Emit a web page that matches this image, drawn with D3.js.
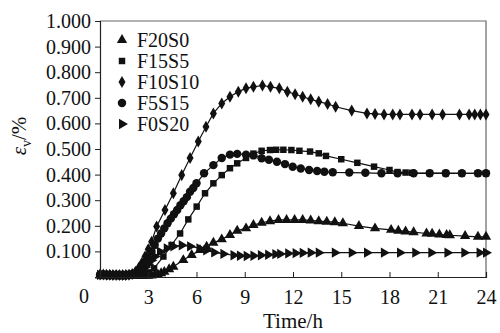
<!DOCTYPE html>
<html>
<head>
<meta charset="utf-8">
<script src="https://cdn.jsdelivr.net/npm/d3@7"></script>
<style>
  body { margin: 0; background: #fff; }
  svg { display: block; }
  svg text { font-family: "Liberation Serif", "Times New Roman", Tinos, "DejaVu Serif", "Noto Serif", Times, serif; }
</style>
</head>
<body>
<div id="chart"></div>
<script>
// Volumetric strain vs time, five mixes
const serifFont = '"Liberation Serif", "Times New Roman", Tinos, "DejaVu Serif", "Noto Serif", Times, serif';
const xTicks = [3, 6, 9, 12, 15, 18, 21, 24];
const yTicks = [0.1, 0.2, 0.3, 0.4, 0.5, 0.6, 0.7, 0.8, 0.9, 1.0];
const seriesNames = ['F20S0', 'F15S5', 'F10S10', 'F5S15', 'F0S20'];
const seriesSymbols = ['triangle', 'square', 'diamond', 'circle', 'right'];

const tF20S0 = [0, 0.2, 0.4, 0.6, 0.8, 1.0, 1.2, 1.4, 1.6, 1.8, 2.0, 2.2, 2.4, 2.6, 2.8, 3.0, 3.2, 3.4, 3.6, 3.8, 4.0, 4.3, 4.56, 5.18, 5.7, 6.22, 6.63, 7.05, 7.57, 8.08, 8.53, 9.08, 9.54, 10.05, 10.57, 11.1, 11.6, 12.1, 12.6, 13.1, 13.6, 14.1, 14.6, 15.1, 16.1, 17.1, 18.1, 18.55, 19.0, 19.5, 20.3, 20.65, 21.1, 21.55, 21.75, 22.7, 23.5, 24];
const vF20S0 = [0.006, 0.006, 0.005, 0.005, 0.005, 0.005, 0.004, 0.004, 0.004, 0.004, 0.004, 0.004, 0.004, 0.004, 0.005, 0.005, 0.006, 0.008, 0.01, 0.015, 0.02, 0.03, 0.04, 0.066, 0.086, 0.105, 0.118, 0.134, 0.147, 0.164, 0.181, 0.19, 0.203, 0.212, 0.218, 0.223, 0.223, 0.223, 0.223, 0.221, 0.218, 0.216, 0.214, 0.21, 0.199, 0.19, 0.184, 0.181, 0.178, 0.175, 0.17, 0.169, 0.166, 0.164, 0.163, 0.16, 0.157, 0.157];

const tF15S5 = [0, 0.2, 0.4, 0.6, 0.8, 1.0, 1.2, 1.4, 1.6, 1.8, 2.0, 2.2, 2.4, 2.6, 2.8, 3.0, 3.36, 3.94, 4.45, 4.98, 5.49, 6.01, 6.53, 7.05, 7.57, 8.08, 8.53, 9.08, 9.54, 10.05, 10.57, 10.95, 11.4, 11.9, 12.4, 13.06, 13.6, 14.05, 15.0, 16.0, 17.04, 18.0, 18.5, 19.0, 19.4, 20.5, 21.5, 22.5, 23.5, 24];
const vF15S5 = [0.007, 0.007, 0.006, 0.006, 0.006, 0.006, 0.005, 0.005, 0.005, 0.005, 0.005, 0.005, 0.006, 0.008, 0.012, 0.018, 0.034, 0.08, 0.125, 0.17, 0.225, 0.275, 0.327, 0.366, 0.398, 0.425, 0.444, 0.465, 0.482, 0.493, 0.496, 0.497, 0.497, 0.496, 0.493, 0.49, 0.483, 0.473, 0.46, 0.446, 0.431, 0.418, 0.41, 0.408, 0.407, 0.406, 0.406, 0.405, 0.405, 0.405];

const tF10S10 = [0, 0.2, 0.4, 0.6, 0.8, 1.0, 1.2, 1.4, 1.6, 1.8, 2.0, 2.2, 2.4, 2.6, 2.8, 3.0, 3.21, 3.52, 4.04, 4.56, 5.08, 5.6, 6.11, 6.59, 7.05, 7.57, 8.08, 8.6, 9.08, 9.54, 10.1, 10.6, 11.15, 11.65, 12.13, 12.6, 13.1, 13.6, 14.15, 14.65, 15.65, 16.6, 17.1, 17.66, 18.2, 18.65, 19.4, 19.9, 20.65, 21.3, 22.35, 22.95, 23.3, 23.65, 24];
const vF10S10 = [0.01, 0.01, 0.009, 0.009, 0.008, 0.008, 0.008, 0.008, 0.008, 0.009, 0.012, 0.02, 0.035, 0.055, 0.08, 0.108, 0.138, 0.197, 0.262, 0.327, 0.398, 0.465, 0.529, 0.587, 0.639, 0.678, 0.704, 0.724, 0.737, 0.743, 0.748, 0.743, 0.737, 0.724, 0.714, 0.704, 0.694, 0.685, 0.676, 0.665, 0.65, 0.639, 0.637, 0.635, 0.635, 0.635, 0.635, 0.635, 0.635, 0.635, 0.635, 0.635, 0.635, 0.635, 0.635];

const tF5S15 = [0, 0.2, 0.4, 0.6, 0.8, 1.0, 1.2, 1.4, 1.6, 1.8, 2.0, 2.2, 2.4, 2.6, 2.8, 3.0, 3.2, 3.4, 3.6, 3.8, 4.0, 4.2, 4.4, 4.6, 4.8, 5.0, 5.2, 5.4, 5.6, 5.8, 6.0, 6.47, 7.05, 7.57, 8.08, 8.53, 9.08, 9.54, 10.05, 10.5, 11.0, 11.5, 11.98, 12.48, 13.0, 13.5, 13.95, 14.47, 15.5, 16.5, 17.5, 18.5, 19.5, 20.5, 21.5, 22.5, 23.5, 24];
const vF5S15 = [0.009, 0.009, 0.008, 0.008, 0.008, 0.008, 0.007, 0.007, 0.007, 0.008, 0.009, 0.012, 0.02, 0.035, 0.055, 0.075, 0.1, 0.125, 0.15, 0.17, 0.19, 0.21, 0.228, 0.245, 0.262, 0.28, 0.296, 0.312, 0.333, 0.348, 0.366, 0.405, 0.437, 0.465, 0.478, 0.481, 0.478, 0.475, 0.464, 0.458, 0.45, 0.441, 0.431, 0.424, 0.418, 0.414, 0.411, 0.409, 0.408, 0.407, 0.405, 0.405, 0.405, 0.405, 0.405, 0.405, 0.405, 0.405];

const tF0S20 = [0, 0.2, 0.4, 0.6, 0.8, 1.0, 1.2, 1.4, 1.6, 1.8, 2.0, 2.2, 2.4, 2.6, 2.8, 3.0, 3.2, 3.4, 3.73, 4.15, 4.56, 5.08, 5.6, 6.18, 6.6, 7.1, 7.67, 8.3, 8.7, 9.12, 9.54, 10.0, 10.45, 10.9, 11.2, 11.7, 12.16, 12.6, 13.1, 13.6, 14.6, 15.65, 16.6, 17.65, 18.65, 19.6, 20.6, 21.6, 22.65, 23.6, 24];
const vF0S20 = [0.008, 0.008, 0.008, 0.007, 0.007, 0.007, 0.007, 0.007, 0.007, 0.008, 0.009, 0.011, 0.015, 0.025, 0.038, 0.05, 0.065, 0.08, 0.099, 0.112, 0.12, 0.124, 0.12, 0.112, 0.104, 0.096, 0.09, 0.085, 0.083, 0.082, 0.083, 0.085, 0.087, 0.089, 0.09, 0.092, 0.093, 0.094, 0.095, 0.095, 0.095, 0.095, 0.095, 0.095, 0.095, 0.095, 0.095, 0.095, 0.095, 0.095, 0.095];

const seriesT = [tF20S0, tF15S5, tF10S10, tF5S15, tF0S20];
const seriesV = [vF20S0, vF15S5, vF10S10, vF5S15, vF0S20];

const W = 500, H = 333;
const margin = { top: 21, right: 14, bottom: 56, left: 100 };
const width = W - margin.left - margin.right;
const height = H - margin.top - margin.bottom;

const svg = d3.select('#chart').append('svg')
  .attr('width', W)
  .attr('height', H)
  .attr('font-family', serifFont);

const g = svg.append('g')
  .attr('transform', `translate(${margin.left},${margin.top})`);

const x = d3.scaleLinear().domain([0, 24]).range([0, width]);
const y = d3.scaleLinear().domain([0, 1]).range([height, 0]);

// frame top/right
g.append('path')
  .attr('d', `M0,0H${width}V${height}`)
  .attr('fill', 'none')
  .attr('stroke', '#666')
  .attr('stroke-width', 1.2);

function symbolPath(kind) {
  if (kind === 'triangle') return d3.symbol(d3.symbolTriangle, 46)();
  if (kind === 'square') return d3.symbol(d3.symbolSquare, 42)();
  if (kind === 'diamond') return d3.symbol(d3.symbolDiamond, 42)();
  if (kind === 'circle') return d3.symbol(d3.symbolCircle, 56)();
  return d3.symbol(d3.symbolTriangle, 46)();
}
function symbolRotate(kind) {
  return kind === 'right' ? ' rotate(90)' : '';
}

const line = d3.line()
  .x(d => x(d[0]))
  .y(d => y(d[1]));

seriesNames.forEach((name, i) => {
  const pts = seriesT[i].map((t, j) => [t, seriesV[i][j]]);
  const sg = g.append('g').attr('class', 'series');
  sg.append('path')
    .datum(pts)
    .attr('d', line)
    .attr('fill', 'none')
    .attr('stroke', '#111')
    .attr('stroke-width', 1.2);
  sg.selectAll('path.mk')
    .data(pts)
    .enter().append('path')
    .attr('class', 'mk')
    .attr('d', symbolPath(seriesSymbols[i]))
    .attr('transform', d => `translate(${x(d[0])},${y(d[1])})${symbolRotate(seriesSymbols[i])}`)
    .attr('fill', '#111');
});

// Y axis
const yAxis = g.append('g')
  .call(d3.axisLeft(y).tickValues(yTicks).tickSize(5).tickFormat(d3.format('.3f')));
yAxis.attr('font-family', serifFont);
yAxis.select('.domain').attr('stroke', '#222').attr('stroke-width', 1.2);
yAxis.selectAll('.tick line').attr('stroke', '#222');
yAxis.selectAll('.tick text')
  .attr('x', -9)
  .style('font-size', '20px')
  .attr('fill', '#111');

// X axis, ticks pointing inward
const xAxis = g.append('g')
  .attr('transform', `translate(0,${height})`)
  .call(d3.axisBottom(x).tickValues(xTicks).tickSize(-5).tickPadding(13));
xAxis.attr('font-family', serifFont);
xAxis.select('.domain').attr('stroke', '#222').attr('stroke-width', 1.2);
xAxis.selectAll('.tick line').attr('stroke', '#222');
xAxis.selectAll('.tick text')
  .style('font-size', '20px')
  .attr('fill', '#111');

// origin label
g.append('text')
  .attr('x', -16)
  .attr('y', height + 26)
  .attr('text-anchor', 'middle')
  .style('font-size', '20px')
  .attr('fill', '#111')
  .text('0');

// axis titles
svg.append('text')
  .attr('x', margin.left + x(12))
  .attr('y', 328)
  .attr('text-anchor', 'middle')
  .style('font-size', '21px')
  .attr('fill', '#111')
  .text('Time/h');

const yt = svg.append('text')
  .attr('transform', 'translate(26,136) rotate(-90)')
  .attr('text-anchor', 'middle')
  .style('font-size', '21px')
  .attr('fill', '#111');
yt.append('tspan').style('font-style', 'italic').text('ε');
yt.append('tspan').attr('dy', 5).style('font-size', '14px').text('v');
yt.append('tspan').attr('dy', -5).text('/%');

// legend
const legend = svg.append('g').attr('transform', 'translate(122,40)');
seriesNames.forEach((name, i) => {
  const row = legend.append('g').attr('transform', `translate(0,${i * 21})`);
  row.append('path')
    .attr('d', symbolPath(seriesSymbols[i]))
    .attr('transform', `translate(0,0)${symbolRotate(seriesSymbols[i])}`)
    .attr('fill', '#111');
  row.append('text')
    .attr('x', 15)
    .attr('y', 7)
    .style('font-size', '20px')
    .attr('fill', '#111')
    .text(name);
});
</script>
</body>
</html>
